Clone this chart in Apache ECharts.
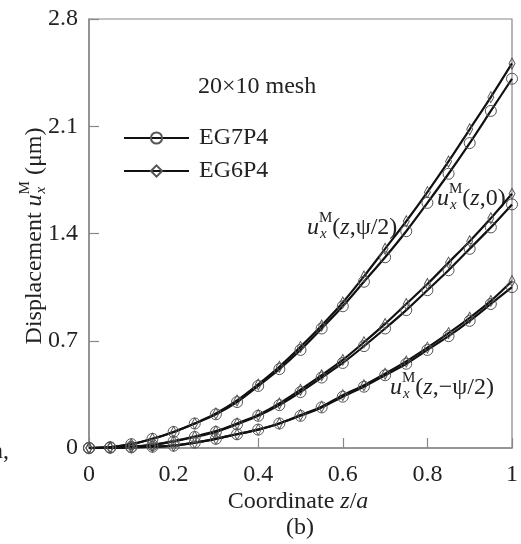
<!DOCTYPE html>
<html>
<head>
<meta charset="utf-8">
<script src="https://cdn.jsdelivr.net/npm/echarts@6/dist/echarts.min.js"></script>
<style>
html,body{margin:0;padding:0;background:#fff;}
#c{width:521px;height:544px;}
</style>
</head>
<body>
<div id="c"></div>
<script>
// ---- data ----
const zValues = [0,0.05,0.1,0.15,0.2,0.25,0.3,0.35,0.4,0.45,0.5,0.55,0.6,0.65,0.7,0.75,0.8,0.85,0.9,0.95,1.0];
// u_x^M(z, psi/2)
const topEG7P4 = [0,0.005,0.025,0.06,0.105,0.16,0.22,0.30,0.405,0.515,0.64,0.78,0.925,1.085,1.245,1.415,1.60,1.79,1.99,2.20,2.41];
const topEG6P4 = [0,0.005,0.025,0.06,0.105,0.16,0.225,0.31,0.415,0.53,0.66,0.80,0.95,1.12,1.30,1.48,1.67,1.87,2.08,2.29,2.51];
// u_x^M(z, 0)
const midEG7P4 = [0,0.003,0.008,0.02,0.043,0.072,0.105,0.155,0.21,0.28,0.365,0.46,0.555,0.665,0.78,0.90,1.03,1.16,1.30,1.44,1.59];
const midEG6P4 = [0,0.003,0.008,0.02,0.045,0.075,0.11,0.16,0.215,0.29,0.38,0.475,0.575,0.69,0.81,0.94,1.07,1.21,1.35,1.50,1.66];
// u_x^M(z, -psi/2)
const botEG7P4 = [0,0.002,0.004,0.008,0.015,0.035,0.06,0.09,0.12,0.16,0.21,0.265,0.335,0.40,0.475,0.55,0.64,0.73,0.83,0.94,1.05];
const botEG6P4 = [0,0.002,0.004,0.008,0.015,0.035,0.06,0.09,0.12,0.16,0.215,0.27,0.345,0.41,0.485,0.565,0.655,0.75,0.85,0.96,1.09];
const seriesNames = ['EG7P4','EG6P4'];
const xTickLabels = ['0','0.2','0.4','0.6','0.8','1'];
const yTickLabels = ['0','0.7','1.4','2.1','2.8'];

// ---- helpers ----
const FONT = '"Liberation Serif", "Times New Roman", serif';
const FS = 24;
const INK = '#222';
const mctx = document.createElement('canvas').getContext('2d');
function tw(t, size, italic){ mctx.font = (italic?'italic ':'') + size + 'px ' + FONT; return mctx.measureText(t).width; }
function txt(t, x, y, size, italic){
  return {type:'text', x:x, y:y, silent:true, style:{text:t, font:(italic?'italic ':'')+size+'px '+FONT,
    fontFamily:FONT, fontSize:size, fontStyle: italic?'italic':'normal',
    fill:INK, textAlign:'left', align:'left', textVerticalAlign:'middle', verticalAlign:'middle'}};
}
function mathGroup(parts, x, y, base, anchor, rotation){
  let cx = 0; const kids = [];
  parts.forEach(p => {
    if (p.sup !== undefined){
      const s = Math.round(base*0.64);
      kids.push(txt(p.sup, cx, -base*0.40, s, false));
      kids.push(txt(p.sub, cx+1, base*0.24, s, true));
      cx += Math.max(tw(p.sup,s,false), tw(p.sub,s,true)+1);
    } else {
      kids.push(txt(p.t, cx, 0, base, !!p.i));
      cx += tw(p.t, base, !!p.i);
    }
  });
  const off = anchor === 'center' ? -cx/2 : 0;
  kids.forEach(k => k.x += off);
  return {type:'group', x:x, y:y, rotation:rotation||0, children:kids};
}

function pairSeries(a7, a6){
  const mk = (name, arr, sym, size) => ({
    name:name, type:'line', smooth:0.3, symbol:sym, symbolSize:size, showSymbol:true,
    data: zValues.map((z,i)=>[z, arr[i]]),
    lineStyle:{color:'#111', width:2.2},
    itemStyle:{color:'rgba(255,255,255,0)', borderColor:'#555', borderWidth:1},
    emphasis:{disabled:true}, animation:false, z:2
  });
  return [mk(seriesNames[0], a7, 'circle', 11), mk(seriesNames[1], a6, 'diamond', [6,11])];
}

const chart = echarts.init(document.getElementById('c'), null, {renderer:'canvas'});
const axisCol = '#888';
chart.setOption({
  animation:false,
  backgroundColor:'#fff',
  grid:{left:89, right:2, top:19, bottom:96, show:true, borderColor:axisCol, borderWidth:1.2, containLabel:false},
  legend:{
    data:seriesNames, orient:'vertical', left:123, top:126, padding:0,
    itemWidth:65, itemHeight:14, itemGap:9,
    textStyle:{fontFamily:FONT, fontSize:FS, color:INK, padding:[0,0,0,5]},
    selectedMode:false
  },
  xAxis:{
    type:'value', min:0, max:1, interval:0.2,
    axisLine:{show:true, lineStyle:{color:axisCol, width:1.5}},
    axisTick:{show:true, inside:true, length:10, lineStyle:{color:axisCol, width:1.2}},
    splitLine:{show:false},
    axisLabel:{margin:15, fontFamily:FONT, fontSize:FS, color:INK, alignMinLabel:'center', alignMaxLabel:'center',
      formatter:(v)=>xTickLabels[Math.round(v/0.2)]}
  },
  yAxis:{
    type:'value', min:0, max:2.8, interval:0.7,
    axisLine:{show:true, lineStyle:{color:axisCol, width:1.5}},
    axisTick:{show:true, inside:true, length:10, lineStyle:{color:axisCol, width:1.2}},
    splitLine:{show:false},
    axisLabel:{margin:11, fontFamily:FONT, fontSize:FS, color:INK,
      formatter:(v)=>yTickLabels[Math.round(v/0.7)]}
  },
  series:[].concat(pairSeries(topEG7P4, topEG6P4), pairSeries(midEG7P4, midEG6P4), pairSeries(botEG7P4, botEG6P4)),
  graphic:[
    txt('20×10 mesh', 198, 87, FS, false),
    mathGroup([{t:'u',i:true},{sup:'M',sub:'x'},{t:'('},{t:'z',i:true},{t:',ψ/2)'}], 307, 228, FS, 'left'),
    mathGroup([{t:'u',i:true},{sup:'M',sub:'x'},{t:'('},{t:'z',i:true},{t:',0)'}], 437, 199, FS, 'left'),
    mathGroup([{t:'u',i:true},{sup:'M',sub:'x'},{t:'('},{t:'z',i:true},{t:',−ψ/2)'}], 390, 388, FS, 'left'),
    mathGroup([{t:'Coordinate '},{t:'z',i:true},{t:'/',i:false},{t:'a',i:true}], 298, 502, FS, 'center'),
    mathGroup([{t:'(b)'}], 300, 528, FS, 'center'),
    mathGroup([{t:'Displacement '},{t:'u',i:true},{sup:'M',sub:'x'},{t:' (μm)'}], 35, 236, FS, 'center', Math.PI/2),
    {type:'text', x:9, y:452, silent:true, style:{text:'n,', font:FS+'px '+FONT, fontFamily:FONT, fontSize:FS, fill:INK, textAlign:'right', align:'right', textVerticalAlign:'middle', verticalAlign:'middle'}}
  ]
});
</script>
</body>
</html>
